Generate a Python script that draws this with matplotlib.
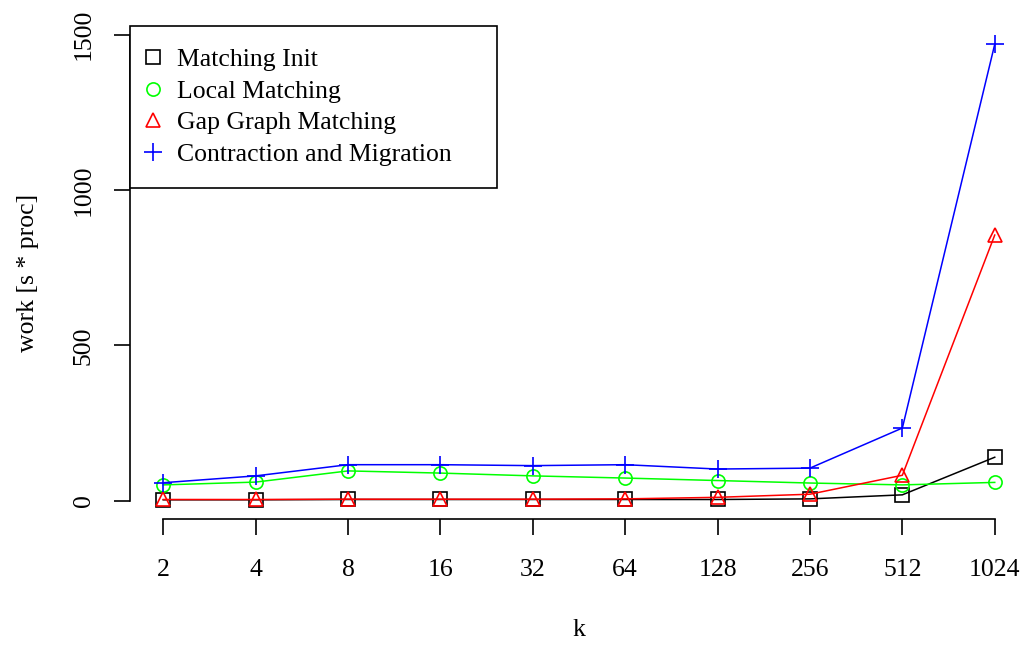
import matplotlib
matplotlib.use("Agg")
import matplotlib.pyplot as plt
import numpy as np

k = [2, 4, 8, 16, 32, 64, 128, 256, 512, 1024]
matching_init = [3, 3, 4, 4, 4, 4, 4, 6, 19, 140]
local_matching = [51, 60, 96, 89, 80, 73, 65, 57, 51, 59]
gap_graph_matching = [4, 4, 5, 5, 5, 6, 11, 21, 82, 855]
contraction_migration = [58, 80, 116, 116, 113, 116, 102, 105, 234, 1469]

series_names = ["Matching Init", "Local Matching", "Gap Graph Matching",
                "Contraction and Migration"]
series_colors = ["black", "#00ff00", "red", "blue"]
series_markers = ["s", "o", "^", "+"]

plt.rcParams["font.family"] = ["Liberation Serif", "DejaVu Serif"]
plt.rcParams["font.size"] = 18.5

fig = plt.figure(figsize=(10.31, 6.46), dpi=100)
ax = fig.add_axes([130 / 1031, 1 - 519 / 646, (1028 - 130) / 1031, (519 - 26) / 646])

all_series = [matching_init, local_matching, gap_graph_matching, contraction_migration]
for vals, name, col, mk in zip(all_series, series_names, series_colors, series_markers):
    ms = 13 if mk == "+" else 9.5
    ax.plot(k, vals, color=col, lw=1.1)
    ax.plot(k, vals, linestyle="none", marker=mk, markersize=ms,
            markerfacecolor="none", markeredgecolor=col, markeredgewidth=1.2,
            label=name)

ax.set_xscale("log", base=2)
lo, hi = np.log2(k[0]), np.log2(k[-1])
pad = 0.04 * (hi - lo)
ax.set_xlim(2 ** (lo - pad), 2 ** (hi + pad))
ymax = max(contraction_migration)
ymin = 0
ypad = 0.04 * (ymax - ymin)
ax.set_ylim(ymin - ypad, ymax + ypad)

ax.set_xticks(k)
ax.set_xticklabels([str(v) for v in k])
ax.xaxis.set_minor_locator(matplotlib.ticker.NullLocator())
ax.set_yticks([0, 500, 1000, 1500])
ax.set_yticklabels(["0", "500", "1000", "1500"], rotation=90, va="center")

for side in ["top", "right"]:
    ax.spines[side].set_visible(False)
ax.spines["left"].set_bounds(0, 1500)
ax.spines["bottom"].set_bounds(k[0], k[-1])
for side in ["left", "bottom"]:
    ax.spines[side].set_linewidth(1.2)
ax.tick_params(axis="both", direction="out", length=11.5, width=1.2)
ax.tick_params(axis="x", pad=17)
ax.tick_params(axis="y", pad=14)

ax.set_xlabel("k", labelpad=28)
ax.set_ylabel("work [s * proc]", labelpad=24)

leg = ax.legend(loc="upper left", bbox_to_anchor=(0, 0, 367 / 898, 1.0),
                mode="expand", borderaxespad=0,
                fancybox=False, edgecolor="black", framealpha=1,
                handlelength=0.1, handletextpad=0.88, labelspacing=0.34,
                borderpad=0.85)
leg.get_frame().set_linewidth(1.2)

fig.savefig("out.png", dpi=100)
